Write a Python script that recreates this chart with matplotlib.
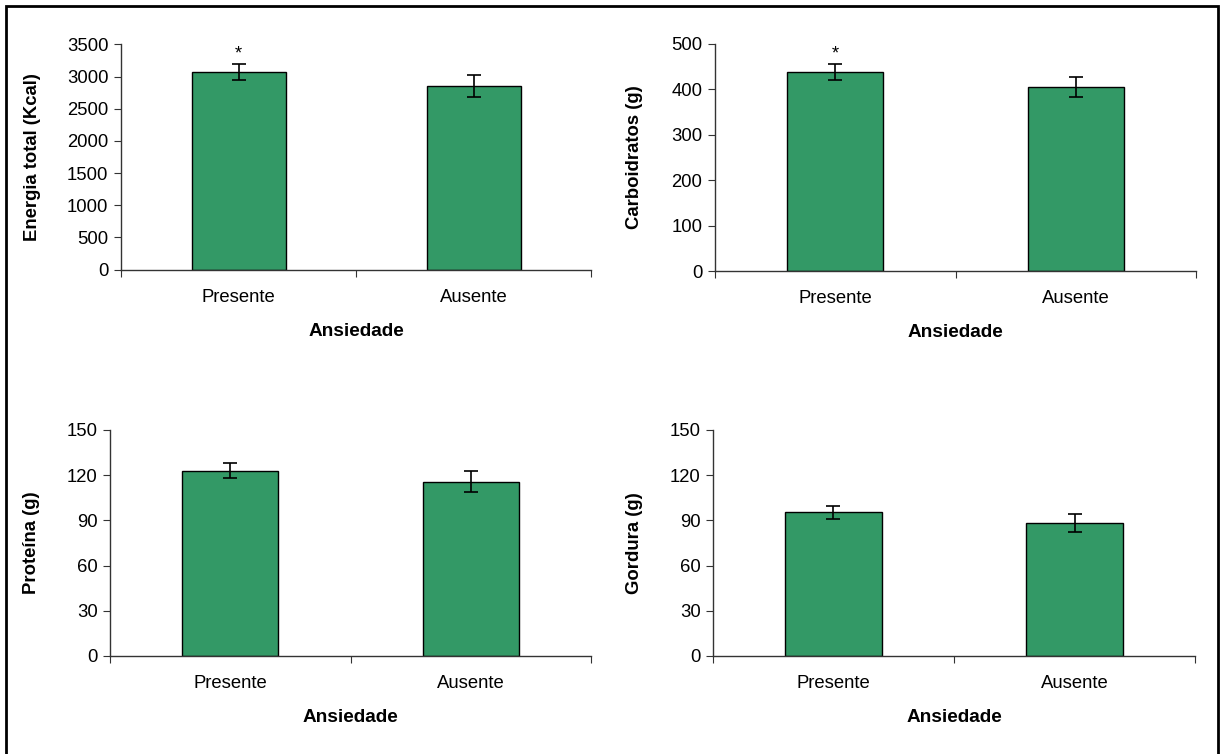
import numpy as np
import matplotlib.pyplot as plt
from matplotlib.patches import Rectangle

plt.rcParams['font.family'] = ['Liberation Sans', 'DejaVu Sans']

grupos = ['Presente', 'Ausente']
energia = [3070, 2860]
energia_ep = [125, 170]
carbo = [438, 406]
carbo_ep = [18, 22]
proteina = [123, 115.7]
proteina_ep = [5, 7]
gordura = [95.5, 88]
gordura_ep = [4.3, 6]

W, H = 1220, 754
fs = 13.3
fig = plt.figure(figsize=(W / 100, H / 100), dpi=100)

# moldura externa (sem borda inferior visivel)
fig.patches.append(Rectangle((6 / W, -0.05), (1218 - 6) / W, 1.05 - 6 / H,
                             transform=fig.transFigure, fill=False,
                             edgecolor='black', linewidth=2.0))


def painel(x0, x1, y0, y1, valores, erros, ylabel, ymax, passo, ast, ylab_x):
    ax = fig.add_axes([x0 / W, 1 - y1 / H, (x1 - x0) / W, (y1 - y0) / H])
    x = np.arange(len(grupos))
    ax.bar(x, valores, width=0.4, color='#339966', edgecolor='black', linewidth=1.0,
           yerr=erros, capsize=5, error_kw=dict(elinewidth=1.2, capthick=1.2, ecolor='black'))
    ax.set_xlim(-0.5, 1.5)
    ax.set_ylim(0, ymax)
    ax.set_yticks(np.arange(0, ymax + 1, passo))
    ax.set_xticks([-0.5, 0.5, 1.5])
    ax.set_xticklabels([])
    ax.set_xticks(x, minor=True)
    ax.set_xticklabels(grupos, minor=True)
    ax.tick_params(axis='x', which='minor', length=0, pad=14, labelsize=fs)
    ax.tick_params(axis='x', which='major', length=5, direction='out', color='#333333')
    ax.tick_params(axis='y', length=5, direction='out', labelsize=fs, color='#333333', pad=4)
    for s in ['top', 'right']:
        ax.spines[s].set_visible(False)
    for s in ['left', 'bottom']:
        ax.spines[s].set_color('#333333')
        ax.spines[s].set_linewidth(1.0)
    ax.set_ylabel(ylabel, fontsize=fs, fontweight='bold')
    ax.yaxis.set_label_coords((ylab_x - x0) / (x1 - x0), 0.5)
    ax.set_xlabel('Ansiedade', fontsize=fs + 0.4, fontweight='bold', va='center')
    ax.xaxis.set_label_coords(0.5, -61.5 / (y1 - y0))
    if ast:
        ax.text(0, valores[0] + erros[0] + ymax * 0.045, '*', ha='center', va='center',
                fontsize=fs)
    return ax


painel(121, 591, 44.5, 269.5, energia, energia_ep, 'Energia total (Kcal)', 3500, 500, True, 41)
painel(715, 1196, 44, 271, carbo, carbo_ep, 'Carboidratos (g)', 500, 100, True, 643)
painel(110, 591, 430, 656, proteina, proteina_ep, 'Proteína (g)', 150, 30, False, 40)
painel(713, 1195, 430, 656, gordura, gordura_ep, 'Gordura (g)', 150, 30, False, 643)

fig.savefig('out.png', dpi=100)
